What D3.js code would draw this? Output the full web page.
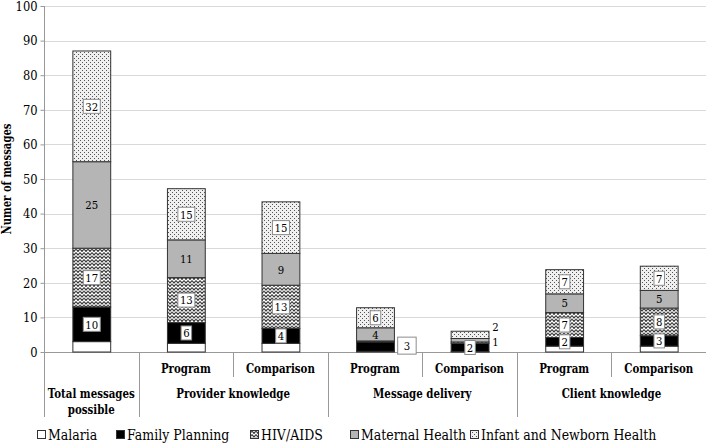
<!DOCTYPE html>
<html><head><meta charset="utf-8">
<script src="https://cdn.jsdelivr.net/npm/d3@7"></script>
<style>
body{margin:0;background:#fff}
svg{display:block}
</style>
</head><body>
<svg id="c" width="707" height="444"></svg>
<script>
// ---- data ----
const categories = ["Total messages possible","Program","Comparison","Program","Comparison","Program","Comparison"];
const groups = ["Total messages possible","Provider knowledge","Message delivery","Client knowledge"];
const groupSpans = [[0,0],[1,2],[3,4],[5,6]];
const seriesNames = ["Malaria","Family Planning","HIV/AIDS","Maternal Health","Infant and Newborn Health"];
const malaria        = [3,   2.5, 2.5, 0.2, 0.1, 1.7, 1.7];
const familyPlanning = [10,  6,   4.3, 2.7, 2.4, 2.5, 3.0];
const hivAids        = [17,  13,  12.5,0.3, 0.4, 7.2, 8.0];
const maternal       = [25,  10.9,9.2, 3.8, 1.0, 5.4, 5.1];
const infant         = [32,  14.8,14.9,5.8, 2.1, 7.0, 7.0];
const fpLabels  = ["10","6","4","3","2","2","3"];
const hivLabels = ["17","13","13",null,null,"7","8"];
const matLabels = ["25","11","9","4","1","5","5"];
const infLabels = ["32","15","15","6","2","7","7"];
const yTicks = [0,10,20,30,40,50,60,70,80,90,100];

// ---- layout / style ----
const FONT = "DejaVu Serif";
function condense(sel,k){
  sel.each(function(){
    const L = this.getComputedTextLength();
    d3.select(this).attr("textLength",L*k).attr("lengthAdjust","spacingAndGlyphs");
  });
}
const svg = d3.select("#c");
const X0 = 44, X1 = 706, Y0 = 352, Y1 = 6;
const y = d3.scaleLinear().domain([0,100]).range([Y0,Y1]);
const x = d3.scaleBand().domain(d3.range(categories.length)).range([X0,X1]).paddingInner(0.6).paddingOuter(0.3);
const step = x.step();

const defs = svg.append("defs");
const pz = defs.append("pattern").attr("id","zig").attr("patternUnits","userSpaceOnUse").attr("width",4).attr("height",3.5);
pz.append("rect").attr("width",4).attr("height",3.5).attr("fill","#fff");
pz.append("path").attr("d","M0,0.5 L2,3 L4,0.5").attr("fill","none").attr("stroke","#1a1a1a").attr("stroke-width",1);
const pd = defs.append("pattern").attr("id","dots").attr("patternUnits","userSpaceOnUse").attr("width",4).attr("height",4);
pd.append("rect").attr("width",4).attr("height",4).attr("fill","#f0f0f0");
pd.append("rect").attr("x",0).attr("y",0).attr("width",1).attr("height",1).attr("fill","#555");
pd.append("rect").attr("x",2).attr("y",2).attr("width",1).attr("height",1).attr("fill","#555");

const fills = ["#ffffff","#000000","url(#zig)","#b5b5b5","url(#dots)"];

svg.append("g").selectAll("line").data(yTicks.filter(d=>d>0)).join("line")
  .attr("x1",X0).attr("x2",X1).attr("y1",d=>Math.round(y(d))+0.5).attr("y2",d=>Math.round(y(d))+0.5)
  .attr("stroke","#d9d9d9").attr("stroke-width",1);

const ya = svg.append("g").attr("transform",`translate(${X0+0.5},0)`)
  .call(d3.axisLeft(y).tickValues(yTicks).tickSizeInner(4).tickSizeOuter(0).tickPadding(3));
ya.attr("font-family",FONT).attr("font-size",13.2);
ya.select(".domain").remove();
ya.selectAll(".tick line").attr("stroke","#999");
ya.selectAll(".tick text").attr("fill","#000").call(condense,0.87);
svg.append("line").attr("x1",X0+0.5).attr("x2",X0+0.5).attr("y1",Y1).attr("y2",417).attr("stroke","#999");
svg.append("line").attr("x1",X0).attr("x2",X1).attr("y1",Y0+0.5).attr("y2",Y0+0.5).attr("stroke","#999");

svg.append("text").attr("transform",`translate(11,${(Y0+Y1)/2}) rotate(-90)`)
  .attr("font-family",FONT).attr("text-anchor","middle").attr("font-size",12.6).attr("font-weight","bold")
  .text("Numer of messages").call(condense,0.8);

const table = categories.map((c,i)=>({i, Malaria:malaria[i], "Family Planning":familyPlanning[i], "HIV/AIDS":hivAids[i], "Maternal Health":maternal[i], "Infant and Newborn Health":infant[i]}));
const stacked = d3.stack().keys(seriesNames)(table);

const bars = svg.append("g");
stacked.forEach((s,si)=>{
  bars.append("g").selectAll("rect").data(s).join("rect")
    .attr("x",d=>x(d.data.i)+0.5).attr("width",x.bandwidth())
    .attr("y",d=>y(d[1])).attr("height",d=>Math.max(0,y(d[0])-y(d[1])))
    .attr("fill",fills[si]).attr("stroke","#333").attr("stroke-width",1);
});

const labelSets = [null, fpLabels, hivLabels, matLabels, infLabels];
const boxed = [false,true,true,false,true];
const outside = {"3-1":{dx:1,dy:-1,box:true,big:true},"4-3":{dx:1,dy:2,box:false},"4-4":{dx:1,dy:-8,box:false}};
const lg = svg.append("g");
stacked.forEach((s,si)=>{
  const labs = labelSets[si]; if(!labs) return;
  s.forEach(d=>{
    const i = d.data.i, t = labs[i]; if(t==null) return;
    let cx = x(i)+x.bandwidth()/2+0.5, cy = (y(d[0])+y(d[1]))/2;
    let box = boxed[si], big=false;
    const o = outside[i+"-"+si];
    if(o){ box=o.box; big=!!o.big; cy += o.dy;
      cx = x(i)+x.bandwidth()+(box?12:6)+o.dx; }
    const w = t.length*6.5 + (big?12:4), h = big?17:14;
    if(box) lg.append("rect").attr("x",cx-w/2).attr("y",cy-h/2).attr("width",w).attr("height",h)
      .attr("fill","#fff").attr("stroke","#8c8c8c").attr("stroke-width",1);
    lg.append("text").attr("x",cx).attr("y",cy).attr("dy","0.36em").attr("text-anchor","middle")
      .attr("font-family",FONT).attr("font-size",11.8).text(t).call(condense,0.86);
  });
});

const ca = svg.append("g");
categories.forEach((c,i)=>{
  if(i===0) return;
  ca.append("text").attr("x",x(i)+x.bandwidth()/2).attr("y",368).attr("dy","0.36em")
    .attr("font-family",FONT).attr("text-anchor","middle").attr("font-size",12.8).attr("font-weight","bold")
    .text(c).call(condense,0.8);
});
groups.forEach((g,gi)=>{
  const [a,b] = groupSpans[gi];
  const cx = X0 + step*(a+b+1)/2;
  const lines = (a===b) ? ["Total messages","possible"] : [g];
  lines.forEach((ln,li)=>{
    ca.append("text").attr("x",cx).attr("y",393+li*16).attr("dy","0.36em").attr("text-anchor","middle")
      .attr("font-family",FONT).attr("font-size",12.8).attr("font-weight","bold").text(ln).call(condense,0.8);
  });
});
const groupStarts = new Set(groupSpans.map(s=>s[0]).concat([categories.length]));
d3.range(1,categories.length).forEach(k=>{
  const xx = Math.round(X0 + k*step)+0.5;
  ca.append("line").attr("x1",xx).attr("x2",xx).attr("y1",Y0).attr("y2",groupStarts.has(k)?417:377)
    .attr("stroke","#999");
});

const legX = [37,116,250,350,470];
const leg = svg.append("g");
seriesNames.forEach((n,si)=>{
  leg.append("rect").attr("x",legX[si]+0.5).attr("y",430.5).attr("width",8).attr("height",8)
    .attr("fill",fills[si]).attr("stroke","#333").attr("stroke-width",1);
  leg.append("text").attr("x",legX[si]+11).attr("y",435).attr("dy","0.36em")
    .attr("font-family",FONT).attr("font-size",15).text(n).call(condense,0.835);
});
</script>
</body></html>
